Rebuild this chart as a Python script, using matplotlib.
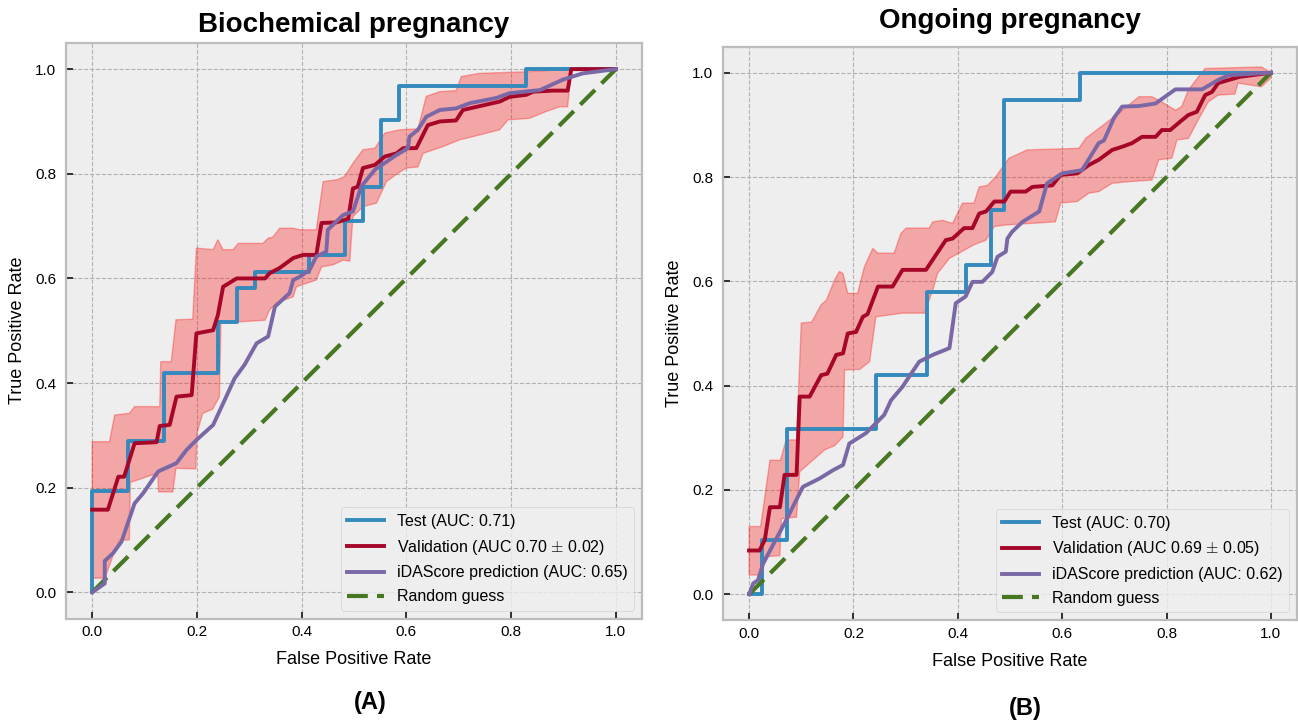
import numpy as np
import matplotlib
matplotlib.use("Agg")
import matplotlib.pyplot as plt

plt.style.use("bmh")
plt.rcParams["font.family"] = ["Liberation Sans", "DejaVu Sans"]

# ---------------- Panel A: Biochemical pregnancy ----------------
a_test_fpr = [0, 0, 0.069, 0.069, 0.138, 0.138, 0.241, 0.241, 0.276, 0.276, 0.310, 0.310,
              0.414, 0.414, 0.483, 0.483, 0.517, 0.517, 0.552, 0.552, 0.586, 0.586, 0.828, 0.828, 1.0]
a_test_tpr = [0, 0.194, 0.194, 0.290, 0.290, 0.419, 0.419, 0.516, 0.516, 0.581, 0.581, 0.613,
              0.613, 0.645, 0.645, 0.710, 0.710, 0.774, 0.774, 0.903, 0.903, 0.968, 0.968, 1.0, 1.0]

a_val_fpr = [0, 0.030, 0.050, 0.061, 0.081, 0.123, 0.129, 0.148, 0.161, 0.190, 0.199, 0.231, 0.240,
             0.250, 0.276, 0.330, 0.339, 0.358, 0.384, 0.403, 0.428, 0.438, 0.466, 0.489, 0.498,
             0.507, 0.517, 0.540, 0.559, 0.581, 0.594, 0.619, 0.641, 0.664, 0.695, 0.708, 0.734,
             0.778, 0.797, 0.829, 0.842, 0.880, 0.908, 0.915, 1.0]
a_val_tpr = [0.158, 0.158, 0.221, 0.221, 0.285, 0.287, 0.318, 0.320, 0.374, 0.377, 0.495, 0.501, 0.530,
             0.584, 0.600, 0.600, 0.610, 0.620, 0.639, 0.645, 0.645, 0.706, 0.707, 0.714, 0.772,
             0.775, 0.811, 0.817, 0.833, 0.839, 0.849, 0.849, 0.893, 0.900, 0.902, 0.922, 0.928,
             0.938, 0.947, 0.951, 0.957, 0.959, 0.959, 1.0, 1.0]

a_up_fpr = [0, 0.033, 0.043, 0.071, 0.081, 0.129, 0.131, 0.151, 0.160, 0.192, 0.199, 0.231, 0.240,
            0.250, 0.269, 0.279, 0.326, 0.336, 0.345, 0.358, 0.384, 0.396, 0.428, 0.441, 0.469,
            0.482, 0.498, 0.517, 0.540, 0.559, 0.587, 0.622, 0.638, 0.664, 0.695, 0.705, 0.740,
            0.830, 0.915, 1.0]
a_up_tpr = [0.288, 0.288, 0.339, 0.342, 0.355, 0.355, 0.441, 0.441, 0.521, 0.522, 0.658, 0.655, 0.674,
            0.655, 0.655, 0.667, 0.667, 0.677, 0.679, 0.696, 0.696, 0.693, 0.693, 0.785, 0.789,
            0.795, 0.820, 0.846, 0.849, 0.878, 0.884, 0.886, 0.948, 0.957, 0.959, 0.986, 0.992,
            0.995, 1.0, 1.0]

a_lo_fpr = [0, 0.024, 0.040, 0.052, 0.071, 0.073, 0.125, 0.127, 0.154, 0.160, 0.198, 0.200, 0.211,
            0.230, 0.243, 0.246, 0.330, 0.339, 0.352, 0.384, 0.390, 0.428, 0.438, 0.460, 0.479,
            0.492, 0.498, 0.517, 0.543, 0.562, 0.584, 0.600, 0.622, 0.632, 0.670, 0.702, 0.727,
            0.778, 0.794, 0.835, 0.867, 0.893, 0.908, 0.915, 1.0]
a_lo_tpr = [0.027, 0.027, 0.070, 0.100, 0.100, 0.210, 0.228, 0.192, 0.192, 0.237, 0.236, 0.304, 0.342,
            0.350, 0.374, 0.515, 0.520, 0.540, 0.553, 0.565, 0.584, 0.597, 0.622, 0.626, 0.635,
            0.633, 0.718, 0.737, 0.744, 0.785, 0.801, 0.811, 0.813, 0.839, 0.852, 0.865, 0.871,
            0.884, 0.903, 0.906, 0.919, 0.928, 0.928, 1.0, 1.0]

a_ida_fpr = [0, 0.024, 0.024, 0.040, 0.056, 0.081, 0.097, 0.126, 0.161, 0.180, 0.199, 0.231, 0.256,
             0.272, 0.291, 0.314, 0.336, 0.349, 0.377, 0.384, 0.396, 0.415, 0.428, 0.447, 0.450,
             0.479, 0.498, 0.514, 0.540, 0.568, 0.581, 0.603, 0.606, 0.622, 0.638, 0.664, 0.695,
             0.721, 0.772, 0.797, 0.855, 0.899, 0.937, 1.0]
a_ida_tpr = [0, 0.017, 0.060, 0.075, 0.097, 0.170, 0.189, 0.231, 0.247, 0.272, 0.291, 0.320, 0.374,
             0.409, 0.435, 0.476, 0.489, 0.546, 0.572, 0.597, 0.603, 0.616, 0.642, 0.651, 0.693,
             0.721, 0.728, 0.776, 0.808, 0.827, 0.836, 0.849, 0.871, 0.884, 0.909, 0.922, 0.925,
             0.935, 0.945, 0.954, 0.960, 0.980, 0.992, 1.0]

# ---------------- Panel B: Ongoing pregnancy ----------------
b_test_fpr = [0, 0.024, 0.024, 0.073, 0.073, 0.244, 0.244, 0.341, 0.341, 0.415, 0.415, 0.463,
              0.463, 0.488, 0.488, 0.634, 0.634, 1.0]
b_test_tpr = [0, 0, 0.105, 0.105, 0.316, 0.316, 0.421, 0.421, 0.579, 0.579, 0.632, 0.632,
              0.737, 0.737, 0.947, 0.947, 1.0, 1.0]

b_val_fpr = [0, 0.020, 0.030, 0.040, 0.059, 0.068, 0.091, 0.097, 0.116, 0.138, 0.150, 0.167, 0.180,
             0.189, 0.205, 0.218, 0.227, 0.247, 0.275, 0.294, 0.339, 0.377, 0.390, 0.412, 0.428,
             0.441, 0.454, 0.470, 0.489, 0.501, 0.530, 0.543, 0.581, 0.597, 0.629, 0.651, 0.670,
             0.696, 0.715, 0.734, 0.753, 0.779, 0.791, 0.807, 0.826, 0.842, 0.858, 0.874, 0.887,
             0.899, 0.919, 0.940, 1.0]
b_val_tpr = [0.084, 0.084, 0.104, 0.167, 0.167, 0.229, 0.229, 0.379, 0.379, 0.420, 0.423, 0.459, 0.462,
             0.500, 0.503, 0.532, 0.537, 0.590, 0.590, 0.622, 0.622, 0.679, 0.682, 0.702, 0.702,
             0.730, 0.734, 0.753, 0.753, 0.772, 0.772, 0.781, 0.784, 0.804, 0.807, 0.823, 0.833,
             0.852, 0.858, 0.865, 0.877, 0.877, 0.890, 0.890, 0.906, 0.919, 0.925, 0.957, 0.963,
             0.980, 0.986, 0.992, 1.0]

b_up_fpr = [0, 0.022, 0.040, 0.060, 0.071, 0.091, 0.100, 0.120, 0.138, 0.148, 0.165, 0.173, 0.180,
            0.189, 0.208, 0.221, 0.237, 0.247, 0.278, 0.291, 0.301, 0.345, 0.352, 0.371, 0.390,
            0.409, 0.431, 0.441, 0.457, 0.473, 0.498, 0.533, 0.632, 0.645, 0.670, 0.712, 0.747,
            0.772, 0.791, 0.817, 0.829, 0.842, 0.861, 0.874, 0.982, 1.0]
b_up_tpr = [0.130, 0.130, 0.257, 0.257, 0.296, 0.296, 0.520, 0.522, 0.555, 0.564, 0.605, 0.619, 0.615,
            0.577, 0.577, 0.628, 0.663, 0.654, 0.654, 0.692, 0.702, 0.702, 0.714, 0.717, 0.711,
            0.750, 0.750, 0.781, 0.784, 0.801, 0.836, 0.852, 0.855, 0.874, 0.893, 0.925, 0.954,
            0.954, 0.944, 0.928, 0.935, 0.967, 0.992, 1.008, 1.011, 1.0]

b_lo_fpr = [0, 0.020, 0.030, 0.059, 0.062, 0.091, 0.097, 0.145, 0.164, 0.180, 0.183, 0.212, 0.231,
            0.243, 0.294, 0.336, 0.352, 0.361, 0.384, 0.431, 0.454, 0.470, 0.492, 0.587, 0.597,
            0.629, 0.651, 0.670, 0.696, 0.727, 0.772, 0.785, 0.810, 0.820, 0.842, 0.861, 0.880,
            0.899, 0.931, 0.937, 0.982, 1.0]
b_lo_tpr = [0.037, 0.037, 0.072, 0.074, 0.145, 0.148, 0.235, 0.277, 0.285, 0.302, 0.430, 0.431, 0.446,
            0.532, 0.539, 0.539, 0.583, 0.615, 0.644, 0.670, 0.679, 0.705, 0.708, 0.714, 0.750,
            0.753, 0.769, 0.772, 0.788, 0.791, 0.794, 0.833, 0.836, 0.871, 0.874, 0.910, 0.944,
            0.957, 0.959, 0.980, 0.973, 0.990]

b_ida_fpr = [0, 0.008, 0.017, 0.027, 0.046, 0.071, 0.087, 0.103, 0.135, 0.161, 0.180, 0.192, 0.224,
             0.243, 0.259, 0.272, 0.294, 0.326, 0.352, 0.384, 0.396, 0.415, 0.428, 0.447, 0.466,
             0.476, 0.492, 0.495, 0.504, 0.524, 0.556, 0.571, 0.600, 0.638, 0.670, 0.680, 0.689,
             0.699, 0.715, 0.747, 0.779, 0.817, 0.868, 0.899, 0.919, 1.0]
b_ida_tpr = [0, 0.021, 0.027, 0.059, 0.095, 0.142, 0.174, 0.206, 0.222, 0.238, 0.248, 0.289, 0.309,
             0.328, 0.344, 0.372, 0.398, 0.446, 0.459, 0.472, 0.558, 0.571, 0.599, 0.599, 0.618,
             0.647, 0.657, 0.682, 0.695, 0.714, 0.734, 0.788, 0.807, 0.813, 0.865, 0.870, 0.890,
             0.913, 0.935, 0.936, 0.941, 0.968, 0.968, 0.986, 0.995, 1.0]

titles = ["Biochemical pregnancy", "Ongoing pregnancy"]
panel_tags = ["(A)", "(B)"]
test_labels = ["Test (AUC: 0.71)", "Test (AUC: 0.70)"]
val_labels = [r"Validation (AUC 0.70 $\pm$ 0.02)", r"Validation (AUC 0.69 $\pm$ 0.05)"]
ida_labels = ["iDAScore prediction (AUC: 0.65)", "iDAScore prediction (AUC: 0.62)"]
ticks = [0.0, 0.2, 0.4, 0.6, 0.8, 1.0]

panels = [
    (a_test_fpr, a_test_tpr, a_val_fpr, a_val_tpr, a_up_fpr, a_up_tpr, a_lo_fpr, a_lo_tpr, a_ida_fpr, a_ida_tpr),
    (b_test_fpr, b_test_tpr, b_val_fpr, b_val_tpr, b_up_fpr, b_up_tpr, b_lo_fpr, b_lo_tpr, b_ida_fpr, b_ida_tpr),
]

W, H = 1298, 722
fig = plt.figure(figsize=(W / 100, H / 100), dpi=100)
fig.patch.set_facecolor("white")

# axes boxes in pixels: left, top, right, bottom
boxes = [(66, 43, 642, 618.5), (723, 46.6, 1297, 620.4)]
title_pads = [8, 13.4]
tag_pos = [(370, 703), (1025, 708)]

for i, (box, data) in enumerate(zip(boxes, panels)):
    l, t, r, b = box
    ax = fig.add_axes([l / W, 1 - b / H, (r - l) / W, (b - t) / H])
    tf, tt, vf, vt, uf, ut, lf, lt, idf, idt = data
    ax.plot(tf, tt, color="#348ABD", lw=2.8, label=test_labels[i], zorder=3)
    ax.plot(vf, vt, color="#A60628", lw=2.8, label=val_labels[i], zorder=4)
    ax.fill(np.r_[uf, lf[::-1]], np.r_[ut, lt[::-1]], color="red", alpha=0.3, lw=1, zorder=2)
    ax.plot(idf, idt, color="#7A68A6", lw=2.8, label=ida_labels[i], zorder=5)
    ax.plot([0, 1], [0, 1], color="#467821", lw=3.0, ls=(0, (5, 2.2)), label="Random guess", zorder=3)

    ax.set_xlim(-0.05, 1.05)
    ax.set_ylim(-0.05, 1.05)
    ax.set_xticks(ticks)
    ax.set_yticks(ticks)
    ax.tick_params(axis="both", labelsize=11, direction="in", length=5, width=1.3, color="#222222")
    ax.tick_params(axis="x", pad=5)
    ax.tick_params(axis="y", pad=7)
    for sp in ax.spines.values():
        sp.set_linewidth(1.6)
        sp.set_color("#bcbcbc")
    ax.grid(True, color="#b2b2b2", ls="--", lw=0.8)

    ax.set_title(titles[i], fontsize=20, fontweight="bold", pad=title_pads[i])
    ax.set_xlabel("False Positive Rate", fontsize=13)
    ax.set_ylabel("True Positive Rate", fontsize=13)
    ax.xaxis.set_label_coords(0.5, -0.056)
    ax.yaxis.set_label_coords(-0.069, 0.5)

    leg = ax.legend(loc="lower right", fontsize=11.5, handlelength=2.3, labelspacing=0.55,
                    fancybox=True, framealpha=0.8)
    fig.text(tag_pos[i][0] / W, 1 - tag_pos[i][1] / H, panel_tags[i], fontsize=17,
             fontweight="bold", ha="center", va="center")

fig.savefig("out.png", dpi=100)
